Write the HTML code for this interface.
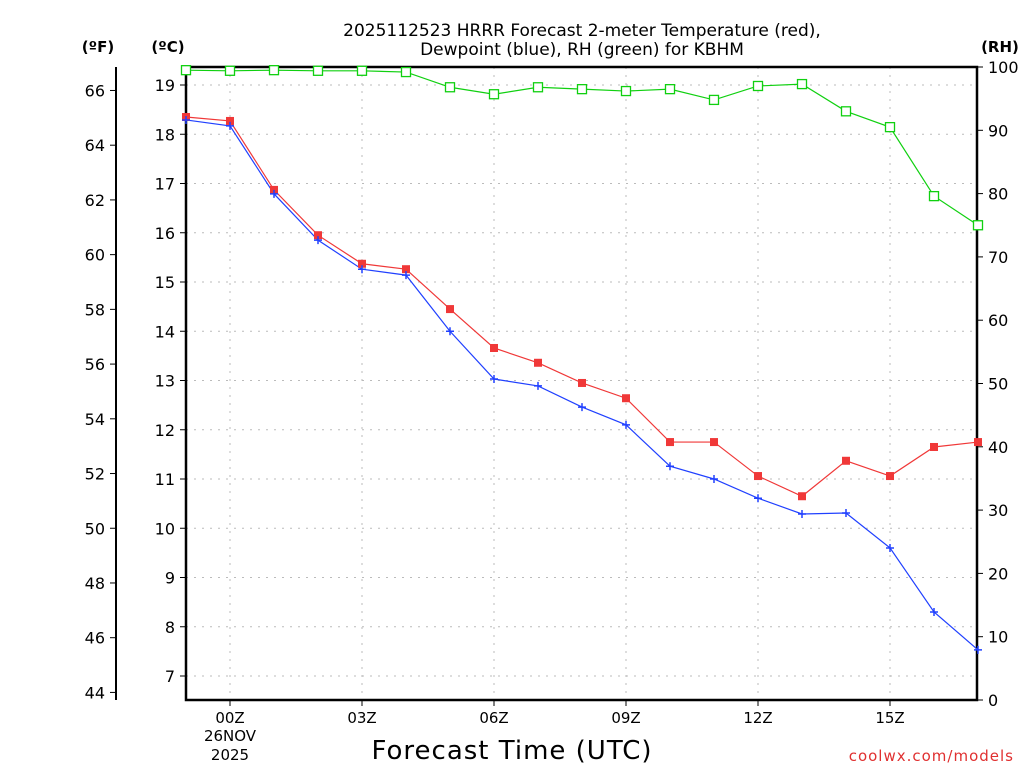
<!DOCTYPE html>
<html><head><meta charset="utf-8"><style>
body{margin:0;background:#fff}
svg text{font-family:"DejaVu Sans","Liberation Sans",sans-serif}
</style></head><body>
<svg id="c" width="1024" height="768" viewBox="0 0 1024 768" xmlns="http://www.w3.org/2000/svg">
<g id="grid"></g>
<g id="axes"></g>
<g id="series"></g>
<text x="582" y="36" text-anchor="middle" font-size="17">2025112523 HRRR Forecast 2-meter Temperature (red),</text>
<text x="582" y="55" text-anchor="middle" font-size="17">Dewpoint (blue), RH (green) for KBHM</text>
<text x="98" y="52" text-anchor="middle" font-size="15" font-weight="bold">(ºF)</text>
<text x="168" y="52" text-anchor="middle" font-size="15" font-weight="bold">(ºC)</text>
<text x="1000" y="52" text-anchor="middle" font-size="15" font-weight="bold">(RH)</text>
<text x="512" y="759" text-anchor="middle" font-size="26" letter-spacing="1">Forecast Time (UTC)</text>
<text x="1014" y="761" text-anchor="end" font-size="15" fill="#e03030" letter-spacing="1">coolwx.com/models</text>
</svg>
<script>
const hours=[-1,0,1,2,3,4,5,6,7,8,9,10,11,12,13,14,15,16,17];
const tempC=[18.35,18.27,16.87,15.95,15.37,15.26,14.45,13.66,13.36,12.95,12.64,11.75,11.75,11.06,10.65,11.37,11.06,11.65,11.75];
const dewC=[18.29,18.17,16.79,15.85,15.26,15.14,14.0,13.03,12.89,12.46,12.10,11.26,11.0,10.61,10.29,10.31,9.6,8.3,7.53];
const rh=[99.5,99.4,99.5,99.4,99.4,99.2,96.8,95.7,96.8,96.5,96.2,96.5,94.8,97.0,97.3,93.0,90.5,79.6,75.0];
const cTicks=[7,8,9,10,11,12,13,14,15,16,17,18,19];
const fTicks=[44,46,48,50,52,54,56,58,60,62,64,66];
const rhTicks=[0,10,20,30,40,50,60,70,80,90,100];
const xTickHours=[0,3,6,9,12,15];
const xTickLabels=["00Z","03Z","06Z","09Z","12Z","15Z"];
const L=186,R=977,T=67,B=700;
const X=h=>230+h*44;
const YC=c=>85+(19-c)*49.25;
const YF=f=>YC((f-32)*5/9);
const YR=r=>700-r*6.33;
const NS="http://www.w3.org/2000/svg";
function mk(p,t,a,txt){const e=document.createElementNS(NS,t);for(const k in a)e.setAttribute(k,a[k]);if(txt!==undefined)e.textContent=txt;p.appendChild(e);return e;}
const grid=document.getElementById('grid'),axes=document.getElementById('axes'),ser=document.getElementById('series');
cTicks.forEach(c=>{
 const l=mk(grid,'line',{x1:L,x2:R,y1:YC(c),y2:YC(c),stroke:'#bbb','stroke-dasharray':'2,6'});
 
 
 const k=mk(axes,'line',{x1:L-6,x2:L,y1:YC(c),y2:YC(c),stroke:'#000'});
 
 
 const t=mk(axes,'text',{x:L-11,y:YC(c)+6,'text-anchor':'end','font-size':'16'},String(c));
 
 
});
xTickHours.forEach((h,i)=>{
 const l=mk(grid,'line',{x1:X(h),x2:X(h),y1:T,y2:B,stroke:'#bbb','stroke-dasharray':'2,6'});
 
 
 const k=mk(axes,'line',{x1:X(h),x2:X(h),y1:B,y2:B+6,stroke:'#000'});
 
 
 const t=mk(axes,'text',{x:X(h),y:B+23,'text-anchor':'middle','font-size':'15'},xTickLabels[i]);
 
 
});
[["26NOV",741],["2025",760]].forEach(([s,y])=>{
 const t=mk(axes,'text',{x:X(0),y:y,'text-anchor':'middle','font-size':'15'},s);
 
 
});
fTicks.forEach(f=>{
 const k=mk(axes,'line',{x1:110,x2:116,y1:YF(f),y2:YF(f),stroke:'#000'});
 
 
 const t=mk(axes,'text',{x:105,y:YF(f)+6,'text-anchor':'end','font-size':'16'},String(f));
 
 
});
rhTicks.forEach(r=>{
 const k=mk(axes,'line',{x1:R,x2:R+6,y1:YR(r),y2:YR(r),stroke:'#000'});
 
 
 const t=mk(axes,'text',{x:R+11,y:YR(r)+6,'font-size':'16'},String(r));
 
 
});
const fa=mk(axes,'line',{x1:116,x2:116,y1:T,y2:B,stroke:'#000','stroke-width':2});


const fr=mk(axes,'path',{d:`M${L},${T}H${R}V${B}H${L}Z`,fill:'none',stroke:'#000','stroke-width':2.5});


function line(vals,yf,color,name){
 const p=mk(ser,'polyline',{points:hours.map((h,i)=>X(h)+','+yf(vals[i])).join(' '),fill:'none',stroke:color,'stroke-width':1.2});
 
 
}
line(rh,YR,'#10d010','rh');
line(tempC,YC,'#f03838','temperature');
line(dewC,YC,'#2040ff','dewpoint');
hours.forEach((h,i)=>{
 const g=mk(ser,'rect',{x:X(h)-4.5,y:YR(rh[i])-4.5,width:9,height:9,fill:'#fff',stroke:'#10d010','stroke-width':1.3});
 
 
 const r=mk(ser,'rect',{x:X(h)-4,y:YC(tempC[i])-4,width:8,height:8,fill:'#f03838'});
 
 
 const b=mk(ser,'path',{d:`M${X(h)-4},${YC(dewC[i])}h8M${X(h)},${YC(dewC[i])-4}v8`,stroke:'#2040ff','stroke-width':1.5});
 
 
});
</script>
</body></html>
